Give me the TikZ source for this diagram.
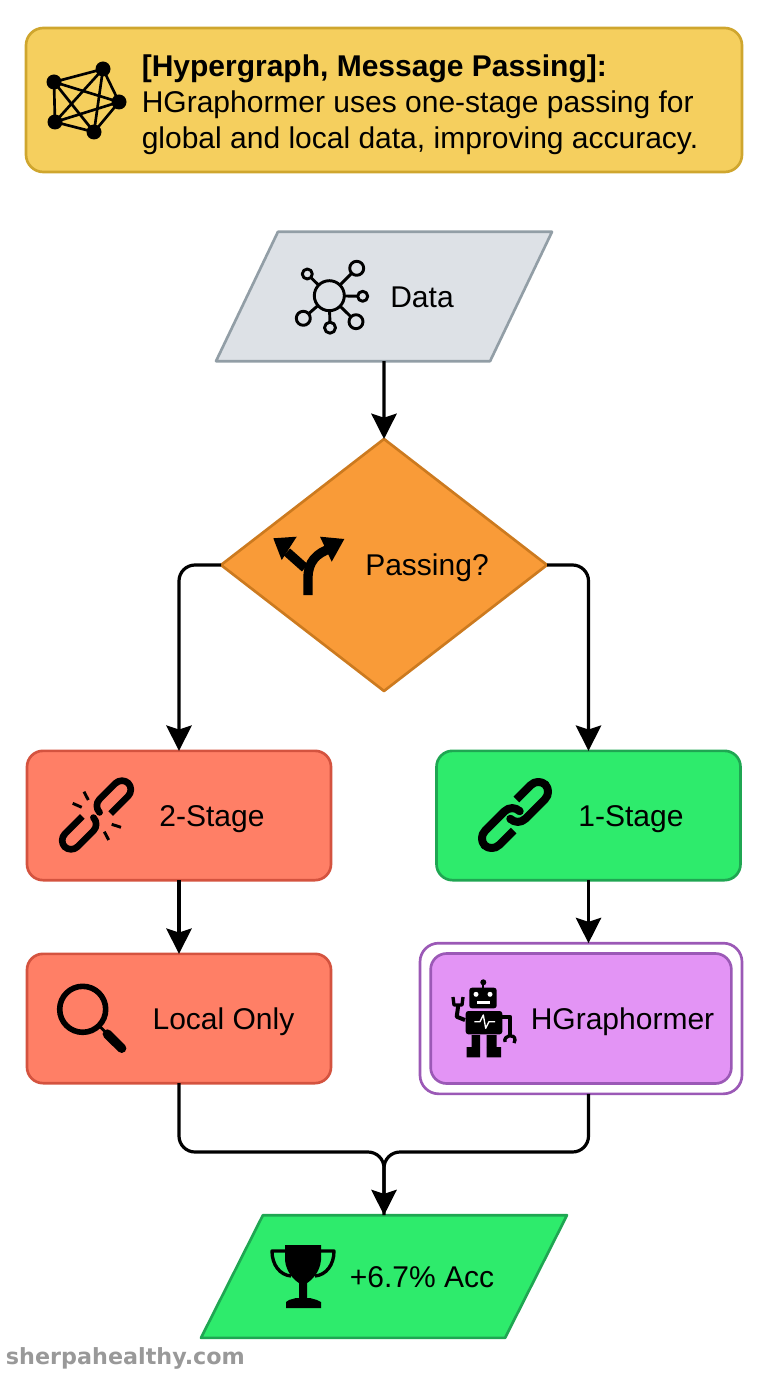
\documentclass[tikz,border=0pt]{standalone}
\usepackage{fontspec}
\setmainfont{Liberation Sans}
\newfontfamily\wmfont{DejaVu Sans}
\usetikzlibrary{positioning, shapes.geometric, arrows.meta}
\definecolor{headfill}{HTML}{F5CF5E}
\definecolor{headline}{HTML}{CFA62E}
\definecolor{greyfill}{HTML}{DDE1E6}
\definecolor{greyline}{HTML}{929EA6}
\definecolor{orangefill}{HTML}{F99B38}
\definecolor{orangeline}{HTML}{CC7A1F}
\definecolor{redfill}{HTML}{FF7F66}
\definecolor{redline}{HTML}{D4533F}
\definecolor{greenfill}{HTML}{2EEB6C}
\definecolor{greenline}{HTML}{1FA652}
\definecolor{purplefill}{HTML}{E394F5}
\definecolor{purpleline}{HTML}{9B59B6}

\begin{document}
\begin{tikzpicture}[x=0.75pt, y=-0.75pt, line join=round,
            every node/.style={font=\fontsize{22.5}{27}\selectfont, outer sep=0pt, inner sep=0pt},
            lowtext/.style={text height=18pt, text depth=2pt},
            flatbox/.style={draw, lowtext, rounded corners=12pt, line width=2pt, minimum width=228pt, minimum height=97pt},
            redbox/.style={flatbox, fill=redfill, draw=redline},
            greenbox/.style={flatbox, fill=greenfill, draw=greenline},
            slanted/.style={trapezium, trapezium stretches body=true, lowtext, draw, line width=2pt, trapezium left angle=23.3, trapezium right angle=156.7},
            conn/.style={draw=black, line width=2.4pt, rounded corners=12pt, -{Stealth[length=19pt, width=19pt, inset=3pt]}},
            joinline/.style={draw=black, line width=2.4pt, rounded corners=12pt},
            iconline/.style={draw=black, line width=2.2pt},
            linkline/.style={draw=black, line width=5.5pt, rounded corners=7pt}]

        \useasboundingbox (0,0) rectangle (768,1376);

        % boxes
        \node[draw=headline, fill=headfill, line width=2pt, rounded corners=13pt, minimum width=537pt, minimum height=108pt, align=left] (head) at (384,100)
            {\rule{0pt}{23.5pt}\hspace*{54pt}\textbf{[Hypergraph, Message Passing]:}\\
             \hspace*{54pt}HGraphormer uses one-stage passing for\\
             \hspace*{54pt}global and local data, improving accuracy.};

        \node[slanted, fill=greyfill, draw=greyline, minimum width=252pt, minimum height=97pt] (data) at (384,296.5) {\hspace*{57pt}Data};
        \node[diamond, lowtext, draw=orangeline, fill=orangefill, line width=2pt, minimum width=244.5pt, minimum height=189pt] (passing) at (384,565) {\hspace*{64.5pt}Passing?};

        \node[redbox] (twostage) at (179,815.5) {\hspace*{49.5pt}2-Stage};
        \node[redbox] (localonly) at (179,1018.5) {\hspace*{66.75pt}Local Only};
        \node[greenbox] (onestage) at (588.5,815.5) {\hspace*{63.75pt}1-Stage};

        \node[draw=purpleline, fill=white, line width=2pt, rounded corners=14pt, minimum width=241.5pt, minimum height=113pt] (hgouter) at (581,1018.5) {};
        \node[draw=purpleline, lowtext, fill=purplefill, line width=2pt, rounded corners=12pt, minimum width=225.5pt, minimum height=97.5pt] (hgraph) at (581,1018.5) {\hspace*{62.25pt}HGraphormer};

        \node[slanted, fill=greenfill, draw=greenline, minimum width=274.5pt, minimum height=92pt] (result) at (384,1276.5) {\hspace*{57pt}+6.7\% Acc};

        \node[anchor=west, font=\fontsize{16.7}{16}\selectfont\wmfont\bfseries, text=black!40] (site) at (6,1358) {sherpahealthy.com};

        % connectors
        \coordinate (merge) at (384,1152);
        \coordinate (hgin) at (onestage.south |- hgouter.north);
        \coordinate (hgout) at (onestage.south |- hgouter.south);

        \draw[conn] (data.south) -- (passing.north);
        \draw[conn] (passing.west) -| (twostage.north);
        \draw[conn] (passing.east) -| (onestage.north);
        \draw[conn] (twostage) -- (localonly);
        \draw[conn] (onestage.south) -- (hgin);
        \draw[joinline] (localonly.south) |- (merge) -- (result.north);
        \draw[conn] (hgout) |- (merge) -- (result.north);

        % hypergraph icon
        \foreach \a/\px/\py in {1/54/82, 2/103/69, 3/119/102, 4/55/122, 5/94/132}
            \fill (\px,\py) coordinate (hg\a) circle (7.5);
        \foreach \a/\b in {1/2, 1/3, 1/4, 1/5, 2/3, 2/4, 2/5, 3/4, 3/5, 4/5}
            \draw[line width=2pt] (hg\a) -- (hg\b);

        % data icon
        \foreach \px/\py/\r in {307.3/274/5, 356.7/268.3/7, 362.7/296.3/5, 356/321.7/7, 330/327.7/5.5, 303.3/318.3/7} {
            \draw[iconline] (329.3,295.7) -- (\px,\py);
            \draw[iconline, fill=greyfill] (\px,\py) circle (\r);
        }
        \draw[iconline, fill=greyfill] (329.3,295.7) circle (15);

        % fork icon
        \draw[line width=7pt] (308,595) -- (308,578) .. controls (308,562) and (316,553) .. (332,548);
        \draw[line width=7pt] (287,552) -- (305,568);
        \fill (320,536.7) -- (344.3,539) -- (331.7,561.7) -- cycle;
        \fill (273.3,538.3) -- (296.7,536.7) -- (281.7,560) -- cycle;

        % broken link icon
        \begin{scope}[shift={(96.5,815)}, rotate=45, yscale=-1]
            \draw[linkline, line width=5pt] (11,-9) -- (45,-9) -- (45,9) -- (4,9) -- (4,0);
            \draw[linkline, line width=5pt] (-11,9) -- (-45,9) -- (-45,-9) -- (-4,-9) -- (-4,0);
        \end{scope}
        \foreach \ax/\ay/\bx/\by in {84/791.7/88.3/800, 72.7/803.3/81.7/807.3, 111.7/824.3/121/827.3, 104.3/831.7/108.7/840}
            \draw[iconline] (\ax,\ay) -- (\bx,\by);

        % magnifier icon
        \draw[line width=4.2pt] (82.7,1009.3) circle (23);
        \draw[iconline] (99,1025.6) -- (108,1034.6);
        \draw[line width=7pt, line cap=round] (107.3,1034) -- (121.7,1048.3);

        % chain icon
        \begin{scope}[shift={(515,815)}, rotate=45, yscale=-1]
            \draw[linkline, line width=6pt, rounded corners=8pt] (-12,-10) -- (-43,-10) -- (-43,10) -- (6,10) -- (6,1);
            \draw[linkline, line width=6pt, rounded corners=8pt] (12,10) -- (43,10) -- (43,-10) -- (-6,-10) -- (-6,-1);
        \end{scope}

        % robot icon
        \fill[rounded corners=2pt] (469.3,987.7) rectangle (496.7,1008.3);
        \fill[rounded corners=2pt] (465.7,1011) rectangle (502.3,1034.3);
        \fill (483.3,982.3) circle (3);
        \draw[line width=1.5pt] (483.3,982.3) -- (483.3,988);
        \fill[white] (476,994.3) circle (2.5) (490,994.3) circle (2.5);
        \fill[white] (476.7,1001) rectangle (490,1003.7);
        \draw[white, line width=1pt] (474.3,1021.7) -- (480,1021.7) -- (483.3,1015) -- (485.7,1028.3) -- (489,1021.7) -- (495,1021.7);
        \fill (471.7,1035) rectangle (480,1047) (486.7,1035) rectangle (496.7,1047);
        \fill (466.7,1047) rectangle (480,1057.3) (486.7,1047) rectangle (501,1057.3);
        \draw[line width=3pt] (465,1020) -- (456.7,1016.7) -- (458.3,1005);
        \draw[line width=2.5pt] (453,997) -- (454,1005) -- (462,1005) -- (463,997);
        \draw[line width=3pt] (502.3,1016.7) -- (510,1016.7) -- (510,1035);
        \draw[line width=2.5pt] (505,1042) .. controls (503,1035) and (515,1033) .. (515,1040) -- (514,1043);

        % trophy icon
        \fill (285,1245) -- (321,1245) -- (321,1260) .. controls (320,1272) and (312,1280) .. (307,1283) -- (307,1298) -- (299,1298) -- (299,1283) .. controls (294,1280) and (286,1272) .. (285,1260) -- cycle;
        \fill (289,1300) -- (296,1298) -- (310,1298) -- (317,1300) -- (321,1302) -- (321,1308) -- (286,1308) -- (286,1302) -- cycle;
        \draw[line width=2.5pt] (285,1251) -- (272,1251) .. controls (272,1265) and (280,1275) .. (291,1276);
        \draw[line width=2.5pt] (321,1251) -- (334,1251) .. controls (334,1265) and (326,1275) .. (315,1276);

    \end{tikzpicture}
\end{document}
